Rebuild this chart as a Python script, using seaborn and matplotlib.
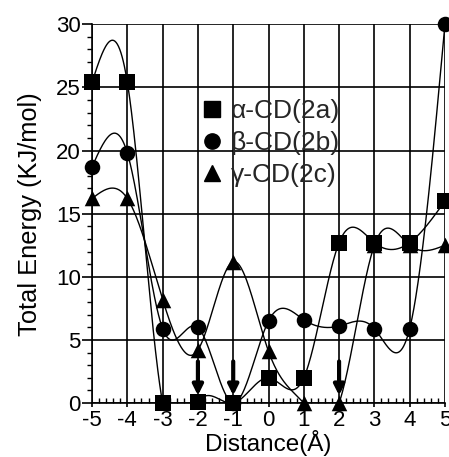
import numpy as np
import pandas as pd
import matplotlib
matplotlib.use("Agg")
import matplotlib.pyplot as plt
import seaborn as sns
from matplotlib.lines import Line2D
from matplotlib.ticker import MultipleLocator

# ---- data ----
distance = [-5, -4, -3, -2, -1, 0, 1, 2, 3, 4, 5]
alpha_cd = [25.4, 25.4, 0.0, 0.1, 0.0, 2.0, 2.0, 12.7, 12.7, 12.7, 16.0]
beta_cd = [18.7, 19.8, 5.9, 6.0, 0.0, 6.5, 6.6, 6.1, 5.9, 5.9, 30.0]
gamma_cd = [16.2, 16.2, 8.2, 4.2, 11.2, 4.1, 0.0, 0.0, 12.5, 12.5, 12.5]
series_names = ["α-CD(2a)", "β-CD(2b)", "γ-CD(2c)"]
series_markers = ["s", "o", "^"]
arrow_x = [-2, -1, 2]
x_ticks = [-5, -4, -3, -2, -1, 0, 1, 2, 3, 4, 5]
y_ticks = [0, 5, 10, 15, 20, 25, 30]


def natural_spline(x, y, n=60):
    x = np.asarray(x, float)
    y = np.asarray(y, float)
    k = len(x)
    h = np.diff(x)
    A = np.zeros((k, k))
    b = np.zeros(k)
    A[0, 0] = A[-1, -1] = 1
    for i in range(1, k - 1):
        A[i, i - 1] = h[i - 1]
        A[i, i] = 2 * (h[i - 1] + h[i])
        A[i, i + 1] = h[i]
        b[i] = 6 * ((y[i + 1] - y[i]) / h[i] - (y[i] - y[i - 1]) / h[i - 1])
    M = np.linalg.solve(A, b)
    xs, ys = [], []
    for i in range(k - 1):
        t = np.linspace(x[i], x[i + 1], n, endpoint=(i == k - 2))
        a = x[i + 1] - t
        c = t - x[i]
        s = (M[i] * a ** 3 + M[i + 1] * c ** 3) / (6 * h[i]) \
            + (y[i] / h[i] - M[i] * h[i] / 6) * a \
            + (y[i + 1] / h[i] - M[i + 1] * h[i] / 6) * c
        xs.extend(t)
        ys.extend(s)
    return np.array(xs), np.array(ys)


sns.set_theme(style="white")
plt.rcParams["font.family"] = ["Liberation Sans", "DejaVu Sans"]
plt.rcParams["axes.unicode_minus"] = False

fig = plt.figure(figsize=(4.49, 4.57), dpi=100)
ax = fig.add_axes([0.205, 0.118, 0.786, 0.829])

points = []
curves = []
for name, vals in zip(series_names, [alpha_cd, beta_cd, gamma_cd]):
    for d, v in zip(distance, vals):
        points.append({"Distance": d, "Energy": v, "Series": name})
    xs, ys = natural_spline(distance, vals)
    curves.append(pd.DataFrame({"Distance": xs, "Energy": ys, "Series": name}))
df_pts = pd.DataFrame(points)
df_curve = pd.concat(curves, ignore_index=True)

sns.lineplot(data=df_curve, x="Distance", y="Energy", units="Series",
             estimator=None, color="black", lw=1.0, ax=ax, sort=False,
             zorder=3)
for name, mk in zip(series_names, series_markers):
    sub = df_pts[df_pts["Series"] == name]
    sns.scatterplot(data=sub, x="Distance", y="Energy", marker=mk, s=125,
                    color="black", edgecolor="black", linewidth=0, ax=ax,
                    zorder=4, clip_on=False, legend=False)

for xa in arrow_x:
    ax.annotate("", xy=(xa, 0.6), xytext=(xa, 3.3),
                arrowprops=dict(arrowstyle="-|>", color="black", lw=3.0,
                                mutation_scale=15, shrinkA=0, shrinkB=0),
                zorder=5)

ax.set_xlim(-5, 5)
ax.set_ylim(0, 30)
ax.set_xticks(x_ticks)
ax.set_yticks(y_ticks)
ax.xaxis.set_minor_locator(MultipleLocator(0.2))
ax.yaxis.set_minor_locator(MultipleLocator(1))
ax.grid(True, which="major", color="black", lw=1.2)
for side in ["left", "bottom"]:
    ax.spines[side].set_color("black")
    ax.spines[side].set_linewidth(1.2)
for side in ["top", "right"]:
    ax.spines[side].set_visible(False)
ax.tick_params(axis="both", which="major", width=1.2, color="black",
               labelsize=16, labelcolor="black", bottom=True, left=True,
               direction="out")
ax.tick_params(axis="x", which="major", length=3, pad=2)
ax.tick_params(axis="y", which="major", length=7, pad=1)
ax.tick_params(axis="x", which="minor", direction="in", length=3.5,
               width=1.0, color="black", bottom=True)
ax.tick_params(axis="y", which="minor", direction="out", length=3.5,
               width=1.0, color="black", left=True)
ax.set_xlabel("Distance(Å)", fontsize=17.5, labelpad=-0.5, color="black")
ax.set_ylabel("Total Energy (KJ/mol)", fontsize=18.3, labelpad=10, color="black")

handles = [Line2D([], [], marker=m, ls="none", color="black", markersize=11)
           for m in series_markers]
ax.legend(handles, series_names, loc="upper left", bbox_to_anchor=(0.265, 0.83),
          frameon=False, fontsize=19, handletextpad=0.1, labelspacing=0.3,
          handlelength=1.2, borderaxespad=0)

fig.savefig("out.png", dpi=100, facecolor="white")
